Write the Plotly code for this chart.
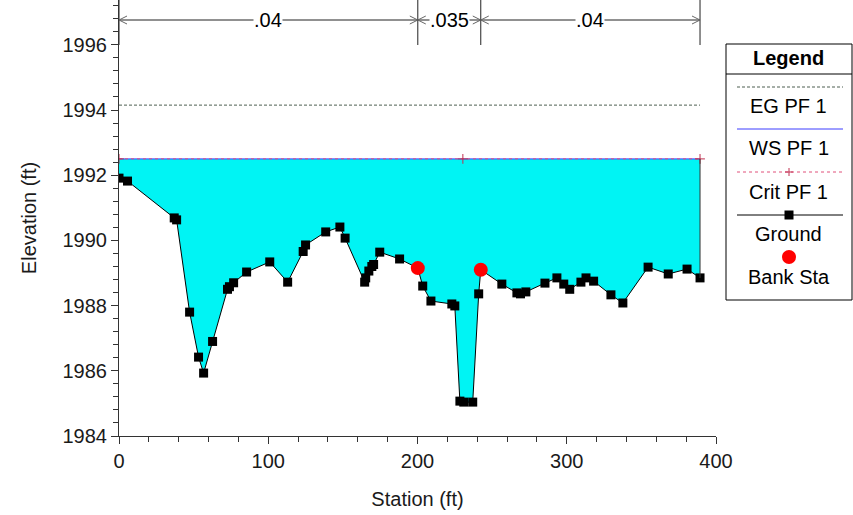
import plotly.graph_objects as go

# ---------------- data ----------------
ground_station = [0, 5.7, 37, 38.6, 47.3, 53.3, 56.7, 62.7, 72.7, 74, 76.8, 85.5, 101, 113,
                  123.4, 125, 138.5, 148, 151.5, 164.6, 165.3, 167.4, 169.4, 170.6, 174.7, 188,
                  200.2, 203.5, 209, 223, 225, 228.4, 231, 237, 241, 242.4, 256.5, 266.6, 269,
                  272.6, 285.4, 293.4, 298, 302, 309.5, 312.9, 318, 329.6, 337.6, 354.5, 368,
                  380.6, 389.3]
ground_elev = [1991.91, 1991.82, 1990.69, 1990.63, 1987.80, 1986.42, 1985.93, 1986.90, 1988.50,
               1988.58, 1988.70, 1989.03, 1989.34, 1988.72, 1989.66, 1989.86, 1990.26, 1990.41,
               1990.07, 1988.72, 1988.85, 1989.06, 1989.20, 1989.26, 1989.64, 1989.43, 1989.15,
               1988.60, 1988.14, 1988.05, 1987.99, 1985.07, 1985.04, 1985.04, 1988.36, 1989.10,
               1988.66, 1988.39, 1988.36, 1988.42, 1988.69, 1988.85, 1988.66, 1988.50, 1988.72,
               1988.85, 1988.75, 1988.33, 1988.08, 1989.18, 1988.97, 1989.12, 1988.85]
bank_station = [200.2, 242.4]
bank_elev = [1989.15, 1989.10]
ws_elev = 1992.5
eg_elev = 1994.15
crit_elev = 1992.5
crit_station = [0, 230.4, 389.3]
n_breaks = [0, 200.2, 242.4, 389.3]
n_values = [".04", ".035", ".04"]
x_ticks = [0, 100, 200, 300, 400]
y_ticks = [1984, 1986, 1988, 1990, 1992, 1994, 1996]

# ---------------- geometry helpers ----------------
W, H = 853, 515
ML, MR, MT, MB = 119, 137, 0, 79
PW, PH = W - ML - MR, H - MT - MB
X_RANGE = [0, 400]
Y_RANGE = [1984, 1984 + PH / 32.6]
ftx = (X_RANGE[1] - X_RANGE[0]) / PW      # ft per px horizontally
fty = (Y_RANGE[1] - Y_RANGE[0]) / PH      # ft per px vertically


def py2y(py):
    return Y_RANGE[1] - (py - MT) * fty


def px2paper(px):
    return (px - ML) / PW


def py2paper(py):
    return (H - MB - py) / PH


FONT = "Liberation Sans, Arial, sans-serif"
FS = 20
EG_COLOR = "#4d5f50"
x0, x1 = ground_station[0], ground_station[-1]

fig = go.Figure()

# water fill (ground polygon closed by WS)
fig.add_trace(go.Scatter(
    x=ground_station + [x1, x0], y=ground_elev + [ws_elev, ws_elev],
    fill="toself", fillcolor="#00F4F4", mode="none", hoverinfo="skip", showlegend=False))

# EG
fig.add_trace(go.Scatter(x=[x0, x1], y=[eg_elev, eg_elev], mode="lines",
                         line=dict(color=EG_COLOR, width=1, dash="3px,2px"), showlegend=False))
# WS
fig.add_trace(go.Scatter(x=[x0, x1], y=[ws_elev, ws_elev], mode="lines",
                         line=dict(color="#3c3cff", width=1), showlegend=False))
# Crit
fig.add_trace(go.Scatter(x=crit_station, y=[crit_elev] * len(crit_station), mode="lines+markers",
                         line=dict(color="#e0507a", width=1, dash="dot"),
                         marker=dict(symbol="cross-thin", size=7, line=dict(color="#c03050", width=1)),
                         showlegend=False))
# right edge of water
fig.add_shape(type="line", x0=x1, x1=x1, y0=ground_elev[-1], y1=ws_elev,
              line=dict(color="#333333", width=1), layer="above")
# Ground
fig.add_trace(go.Scatter(x=ground_station, y=ground_elev, mode="lines+markers",
                         line=dict(color="black", width=1),
                         marker=dict(symbol="square", size=9, color="black"), showlegend=False))
# Bank stations
fig.add_trace(go.Scatter(x=bank_station, y=bank_elev, mode="markers",
                         marker=dict(symbol="circle", size=14, color="#ff0000"), showlegend=False))

# ---------------- Manning's n annotations at top ----------------
y_arrow = py2y(20)
y_vtop = Y_RANGE[1]
y_vbot = py2y(45)
chev_w = 8 * ftx
chev_h = 4 * fty
for b in n_breaks:
    fig.add_shape(type="line", x0=b, x1=b, y0=y_vbot, y1=y_vtop, xref="x", yref="y",
                  line=dict(color="#222222", width=1))
for i, lab in enumerate(n_values):
    a, b = n_breaks[i], n_breaks[i + 1]
    fig.add_shape(type="line", x0=a, x1=b, y0=y_arrow, y1=y_arrow,
                  line=dict(color="#222222", width=1))
    for tip, d in ((a, 1), (b, -1)):
        path = (f"M {tip + d * chev_w},{y_arrow + chev_h} L {tip},{y_arrow} "
                f"L {tip + d * chev_w},{y_arrow - chev_h}")
        fig.add_shape(type="path", path=path, line=dict(color="#666666", width=1))
    fig.add_annotation(x=(a + b) / 2, y=y_arrow, text=lab, showarrow=False,
                       bgcolor="white", font=dict(family=FONT, size=FS, color="black"),
                       borderpad=0)

# ---------------- manual legend ----------------
lx0, lx1 = 726, 852
ly0, ly1 = 44, 300
fig.add_shape(type="rect", xref="paper", yref="paper",
              x0=px2paper(lx0), x1=px2paper(lx1), y0=py2paper(ly1), y1=py2paper(ly0),
              line=dict(color="black", width=1), fillcolor="white")
fig.add_shape(type="line", xref="paper", yref="paper",
              x0=px2paper(lx0), x1=px2paper(lx1), y0=py2paper(74), y1=py2paper(74),
              line=dict(color="black", width=1))
cx = (lx0 + lx1) / 2
sx0, sx1 = 737, 843


def leg_text(txt, py, bold=False):
    fig.add_annotation(xref="paper", yref="paper", x=px2paper(cx), y=py2paper(py),
                       text=f"<b>{txt}</b>" if bold else txt, showarrow=False,
                       font=dict(family=FONT, size=FS, color="black"),
                       xanchor="center", yanchor="middle")


def leg_line(py, color, dash):
    fig.add_shape(type="line", xref="paper", yref="paper",
                  x0=px2paper(sx0), x1=px2paper(sx1), y0=py2paper(py), y1=py2paper(py),
                  line=dict(color=color, width=1, dash=dash))


leg_text("Legend", 58, bold=True)
leg_line(87, EG_COLOR, "3px,2px")
leg_text("EG PF 1", 106)
leg_line(129, "#3c3cff", "solid")
leg_text("WS PF 1", 148)
leg_line(172, "#e0507a", "dot")
for dx0, dy0, dx1, dy1 in ((-4, 0, 4, 0), (0, -4, 0, 4)):
    fig.add_shape(type="line", xref="paper", yref="paper",
                  x0=px2paper(cx + dx0), x1=px2paper(cx + dx1),
                  y0=py2paper(172 + dy0), y1=py2paper(172 + dy1),
                  line=dict(color="#c03050", width=1))
leg_text("Crit PF 1", 192)
leg_line(215, "black", "solid")
fig.add_shape(type="rect", xref="paper", yref="paper",
              x0=px2paper(cx - 4.5), x1=px2paper(cx + 4.5), y0=py2paper(219.5), y1=py2paper(210.5),
              line=dict(color="black", width=0), fillcolor="black")
leg_text("Ground", 234)
fig.add_shape(type="circle", xref="paper", yref="paper",
              x0=px2paper(cx - 7), x1=px2paper(cx + 7), y0=py2paper(264), y1=py2paper(250),
              line=dict(color="#ff0000", width=0), fillcolor="#ff0000")
leg_text("Bank Sta", 277)

# ---------------- axes / layout ----------------
axis_font = dict(family=FONT, size=FS, color="#1a1a1a")
fig.update_xaxes(range=X_RANGE, tickvals=x_ticks, ticks="outside", ticklen=7, tickwidth=1,
                 tickcolor="#333333", showline=True, linecolor="#333333", linewidth=1,
                 showgrid=False, zeroline=False, tickfont=axis_font, automargin=False,
                 minor=dict(dtick=20, ticks="outside", ticklen=5, tickcolor="#333333"),
                 title=dict(text="Station (ft)", font=axis_font, standoff=20))
fig.update_yaxes(range=Y_RANGE, tickvals=y_ticks, ticks="outside", ticklen=7, tickwidth=1,
                 tickcolor="#333333", showline=True, linecolor="#333333", linewidth=1,
                 showgrid=False, zeroline=False, tickfont=axis_font, automargin=False,
                 minor=dict(tick0=1984, dtick=0.4, ticks="outside", ticklen=5, tickcolor="#333333"),
                 title=dict(text="Elevation (ft)", font=axis_font, standoff=20))
fig.update_layout(width=W, height=H, margin=dict(l=ML, r=MR, t=MT, b=MB),
                  plot_bgcolor="white", paper_bgcolor="white", showlegend=False,
                  font=dict(family=FONT))
fig.write_html("out.html", config={"displayModeBar": False},
               post_script="document.body.style.margin='0';document.body.style.overflow='hidden';")
